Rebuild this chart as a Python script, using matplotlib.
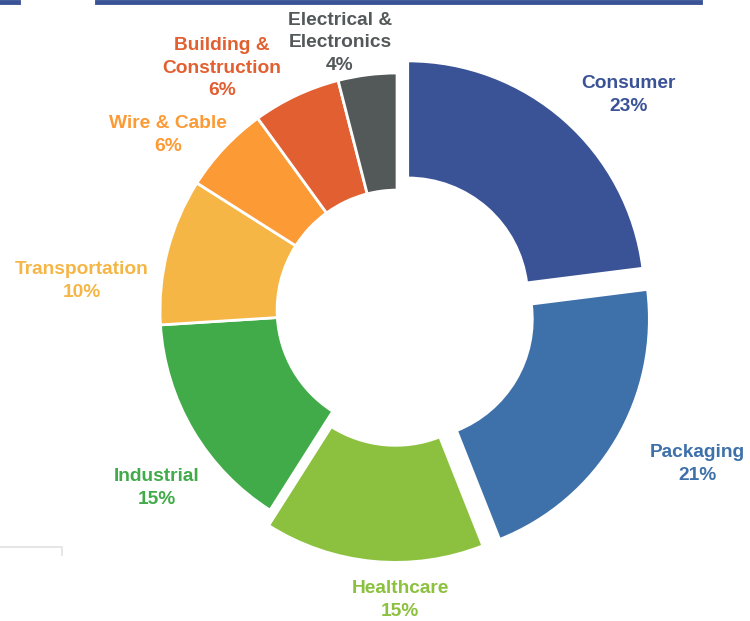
import matplotlib.pyplot as plt
from matplotlib.lines import Line2D

categories = ['Consumer', 'Packaging', 'Healthcare', 'Industrial', 'Transportation',
              'Wire & Cable', 'Building &\nConstruction', 'Electrical &\nElectronics']
shares = [23, 21, 15, 15, 10, 6, 6, 4]
colors = ['#3A5396', '#3E71AA', '#8CC13F', '#42AB49', '#F5B646',
          '#FC9A35', '#E15F30', '#535859']

explode = [0.068, 0.075, 0.065, 0, 0, 0, 0, 0]
label_pos = [(0.975, 0.907), (1.266, -0.650), (0.013, -1.224), (-1.013, -0.751),
             (-1.329, 0.122), (-0.966, 0.738), (-0.738, 1.021), (-0.241, 1.127)]

fig = plt.figure(figsize=(7.5, 6.21), dpi=100)
ax = fig.add_axes([0, 0, 1, 1])

ax.pie(shares, colors=colors, startangle=90, counterclock=False, explode=explode,
       radius=1, wedgeprops=dict(width=0.494, edgecolor='white', linewidth=2))

for name, val, col, (x, y) in zip(categories, shares, colors, label_pos):
    ax.text(x, y, f'{name}\n{val}%', color=col, ha='center', va='center',
            fontsize=13.8, fontweight='bold', family=['Liberation Sans', 'DejaVu Sans'],
            linespacing=1.45)

ax.set_xlim(-1.675, 1.489)
ax.set_ylim(-1.312, 1.308)
ax.set_aspect('equal')
ax.axis('off')

# bits of frame left over from the crop
fig.add_artist(Line2D([97 / 750, 700 / 750], [1 - 2 / 621, 1 - 2 / 621], color='#3A5396', lw=3.5))
fig.add_artist(Line2D([0, 18 / 750], [1 - 2 / 621, 1 - 2 / 621], color='#3A5396', lw=3.5))
fig.add_artist(Line2D([0, 62 / 750, 62 / 750], [1 - 547 / 621, 1 - 547 / 621, 1 - 555 / 621],
                      color='#E2E2E2', lw=1.2))

fig.savefig('out.png', dpi=100)
